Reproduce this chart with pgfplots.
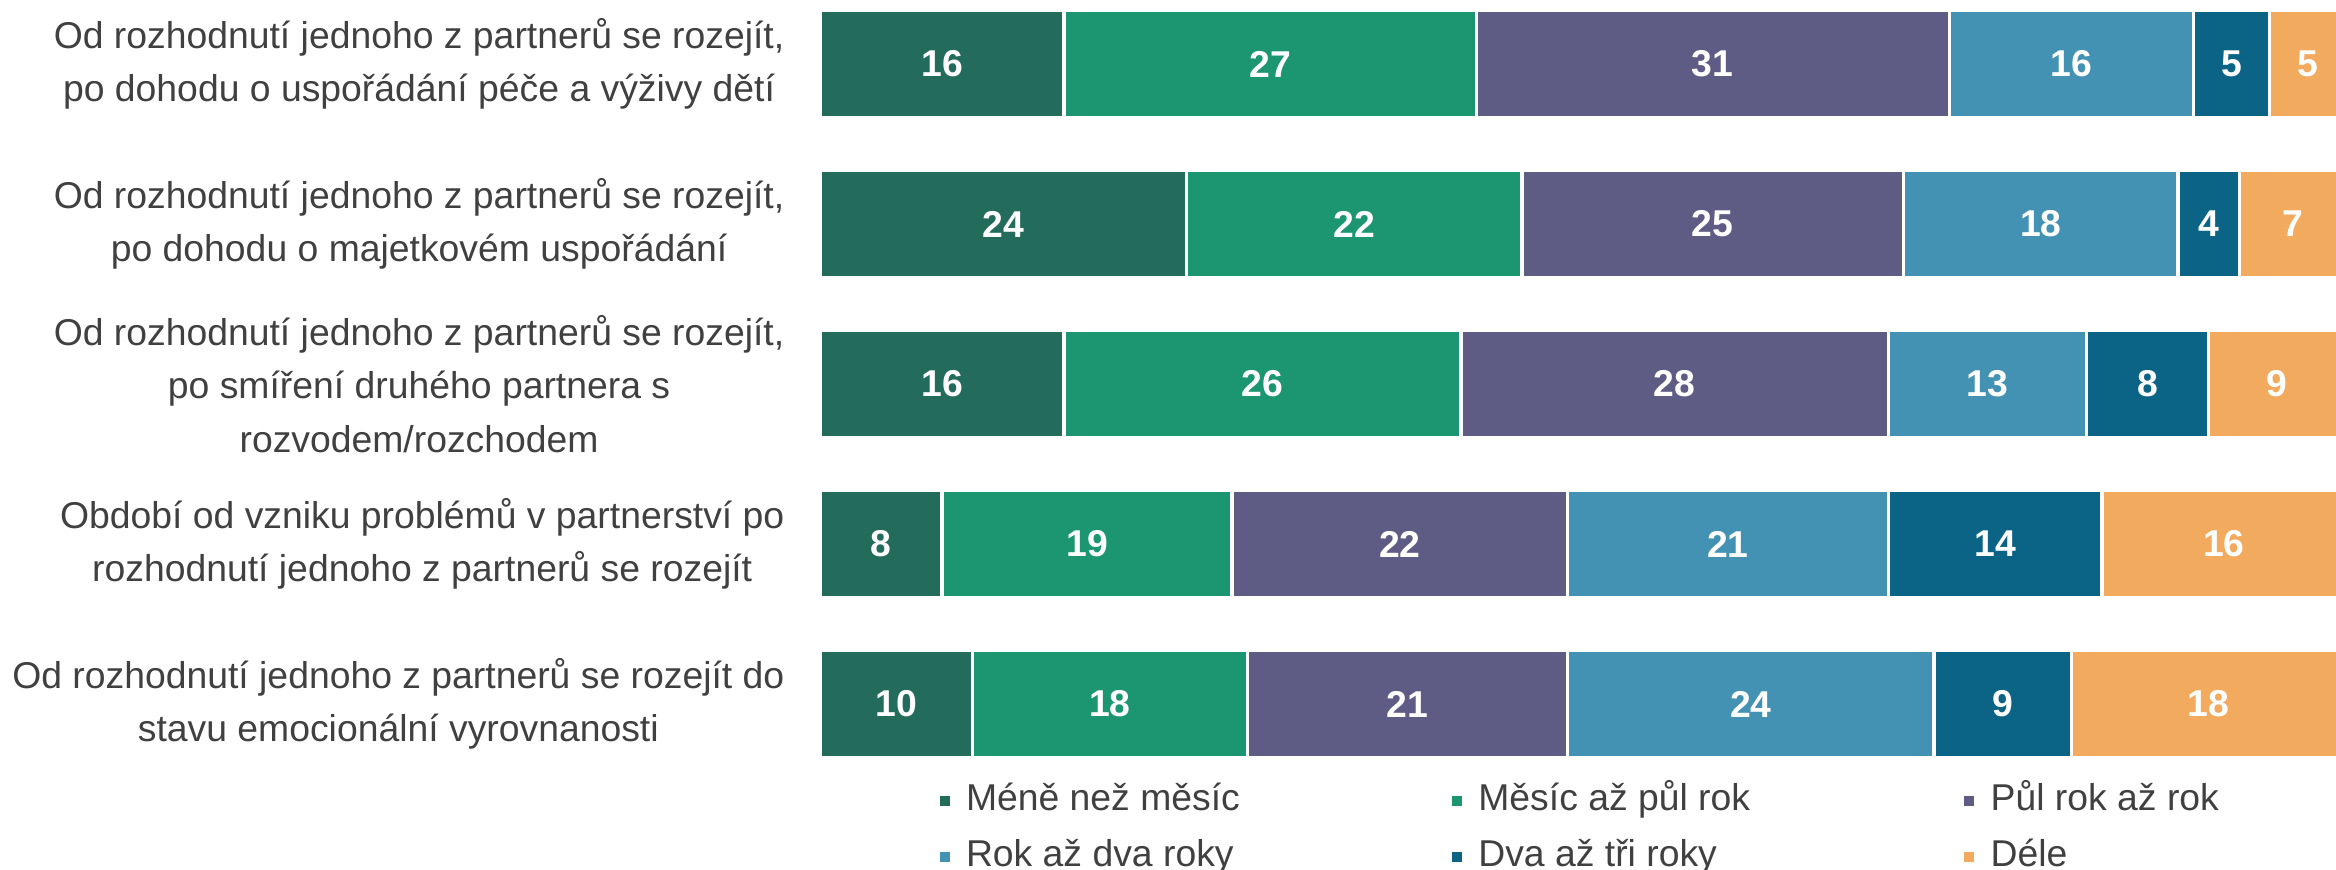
\documentclass[border=0pt]{standalone}
\usepackage{fontspec}
\setmainfont{Liberation Sans}
\usepackage{pgfplots}
\pgfplotsset{compat=1.18}

\definecolor{c1}{HTML}{236B5B}
\definecolor{c2}{HTML}{1B9671}
\definecolor{c3}{HTML}{5E5B85}
\definecolor{c4}{HTML}{4392B4}
\definecolor{c5}{HTML}{0B6485}
\definecolor{c6}{HTML}{F1AA5E}
\definecolor{txt}{HTML}{404040}

\begin{document}
\begin{tikzpicture}[font=\fontsize{11.2}{16}\selectfont]
\useasboundingbox (0,0) rectangle (700.8pt,-261pt);
\begin{axis}[
    at={(246pt,0pt)}, anchor=north west,
    scale only axis, width=457.8pt, height=230.4pt,
    xbar stacked, bar width=0.669,
    xmin=0, xmax=100, ymin=-0.4, ymax=4.4, y dir=reverse,
    axis line style={draw=none}, tick style={draw=none}, xtick=\empty,
    ytick={0,...,4},
    yticklabels={
        {Od rozhodnutí jednoho z partnerů se rozejít,\\po dohodu o uspořádání péče a výživy dětí},
        {Od rozhodnutí jednoho z partnerů se rozejít,\\po dohodu o majetkovém uspořádání},
        {Od rozhodnutí jednoho z partnerů se rozejít,\\po smíření druhého partnera s\\rozvodem/rozchodem},
        {Období od vzniku problémů v partnerství po\\rozhodnutí jednoho z partnerů se rozejít},
        {Od rozhodnutí jednoho z partnerů se rozejít do\\stavu emocionální vyrovnanosti}},
    yticklabel style={align=center, text=txt, inner sep=0pt, xshift=-10.5pt,
        font=\fontsize{11.2}{16}\selectfont},
    every axis plot/.append style={draw=white, line width=1pt},
    visualization depends on={rawx \as \myx},
    nodes near coords={\pgfmathprintnumber[assume math mode=true]{\myx}},
    every node near coord/.append style={anchor=center, text=white,
        font=\fontsize{11.2}{16}\selectfont\bfseries},
    legend columns=3,
    legend style={at={(0.0758,-0.0195)}, anchor=north west, draw=none, fill=none,
        inner sep=0pt, text=txt, font=\fontsize{11.2}{16}\selectfont,
        nodes={inner sep=0pt, text height=8pt, text depth=2.5pt},
        row sep=6.3pt,
        /tikz/every odd column/.append style={column sep=3.9pt}},
    legend image code/.code={\fill[#1] (0pt,-2pt) rectangle (4pt,2pt);},
]
\addplot[fill=c1] coordinates {(16,0) (24,1) (16,2) (8,3) (10,4)};
\addplot[fill=c2] coordinates {(27,0) (22,1) (26,2) (19,3) (18,4)};
\addplot[fill=c3] coordinates {(31,0) (25,1) (28,2) (22,3) (21,4)};
\addplot[fill=c4] coordinates {(16,0) (18,1) (13,2) (21,3) (24,4)};
\addplot[fill=c5] coordinates {(5,0) (4,1) (8,2) (14,3) (9,4)};
\addplot[fill=c6] coordinates {(5,0) (7,1) (9,2) (16,3) (18,4)};
\addlegendentry{\makebox[144.8pt][l]{Méně než měsíc}}
\addlegendentry{\makebox[144.8pt][l]{Měsíc až půl rok}}
\addlegendentry{\makebox[144.8pt][l]{Půl rok až rok}}
\addlegendentry{\makebox[144.8pt][l]{Rok až dva roky}}
\addlegendentry{\makebox[144.8pt][l]{Dva až tři roky}}
\addlegendentry{\makebox[144.8pt][l]{Déle}}
\end{axis}
\end{tikzpicture}
\end{document}
